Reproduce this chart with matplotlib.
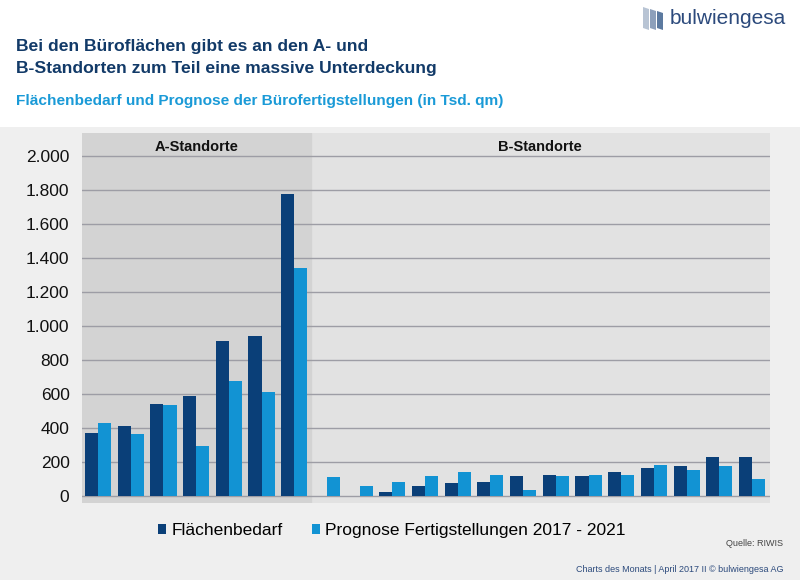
import matplotlib
matplotlib.use("Agg")
import matplotlib.pyplot as plt
import numpy as np
from matplotlib.patches import Rectangle, Polygon
from matplotlib.ticker import FuncFormatter

plt.rcParams['font.family'] = ['Liberation Sans', 'DejaVu Sans']

# values in Tsd. qm (7 A-Standorte, 14 B-Standorte)
bedarf_a = [372, 415, 540, 587, 912, 943, 1777]
prognose_a = [430, 366, 534, 297, 679, 610, 1339]
bedarf_b = [2, 2, 24, 61, 80, 82, 118, 124, 122, 141, 169, 176, 231, 231]
prognose_b = [112, 63, 86, 118, 143, 124, 39, 120, 127, 125, 186, 155, 176, 104]

series_labels = ["Flächenbedarf", "Prognose Fertigstellungen 2017 - 2021"]
group_labels = ["A-Standorte", "B-Standorte"]
yticks = list(range(0, 2001, 200))

dark = "#0a3f78"
light = "#1293d3"

bedarf = np.array(bedarf_a + bedarf_b)
prognose = np.array(prognose_a + prognose_b)
x = np.arange(len(bedarf))
n_a = len(bedarf_a)

fig = plt.figure(figsize=(8, 5.8), dpi=100)
fig.patch.set_facecolor("white")

# light gray panel behind the chart
fig.patches.append(Rectangle((0, 0), 1, 453 / 580, transform=fig.transFigure,
                             facecolor="#efefef", edgecolor="none", zorder=-10))

ax = fig.add_axes([82 / 800, 1 - 503 / 580, 688 / 800, 370 / 580])
ax.set_facecolor("#e2e2e2")

xmin, xmax = -0.49, len(x) - 1 + 0.55
split = n_a - 0.5
ax.axvspan(xmin, split, color="#d3d3d3", zorder=0)

w = 0.4
ax.bar(x - w / 2, bedarf, w, color=dark, label=series_labels[0], zorder=3)
ax.bar(x + w / 2, prognose, w, color=light, label=series_labels[1], zorder=3)

ax.set_xlim(xmin, xmax)
ax.set_ylim(-39, 2133)
ax.set_yticks(yticks)
ax.yaxis.set_major_formatter(FuncFormatter(lambda v, p: f"{int(v):,}".replace(",", ".")))
ax.set_xticks([])
ax.tick_params(axis="y", length=0, pad=9, labelsize=12.5, labelcolor="#111111")
ax.grid(axis="y", color="#9d9da5", linewidth=1, zorder=1)
ax.set_axisbelow(True)
for s in ax.spines.values():
    s.set_visible(False)

ax.text((xmin + split) / 2, 2050, group_labels[0], ha="center", va="center",
        fontsize=10.5, fontweight="bold", color="#111111")
ax.text((split + xmax) / 2, 2050, group_labels[1], ha="center", va="center",
        fontsize=10.5, fontweight="bold", color="#111111")

leg = ax.legend(loc="center", bbox_to_anchor=(0.5 - 0.5 * 82 / 688 + 0.01, -0.075), ncol=2,
                frameon=False, fontsize=12.5, handlelength=0.45, handleheight=0.45,
                handletextpad=0.3, columnspacing=1.7)

# titles
fig.text(16 / 800, 1 - 46 / 580, "Bei den Büroflächen gibt es an den A- und",
         fontsize=12.6, fontweight="bold", color="#123a68", va="center")
fig.text(16 / 800, 1 - 68 / 580, "B-Standorten zum Teil eine massive Unterdeckung",
         fontsize=12.6, fontweight="bold", color="#123a68", va="center")
fig.text(16 / 800, 1 - 101 / 580,
         "Flächenbedarf und Prognose der Bürofertigstellungen (in Tsd. qm)",
         fontsize=11.1, fontweight="bold", color="#1a9ad7", va="center")

# logo
fig.text(670 / 800, 1 - 18 / 580, "bulwiengesa", fontsize=15, color="#2c4a7c", va="center")
for i, c in enumerate(["#b8c4d4", "#8da0bb", "#5c7aa0"]):
    x0 = 643 + i * 7
    pts = [(x0, 7 + i * 2), (x0 + 6, 9 + i * 2), (x0 + 6, 30), (x0, 28)]
    fig.patches.append(Polygon([(px / 800, 1 - py / 580) for px, py in pts],
                               closed=True, transform=fig.transFigure,
                               facecolor=c, edgecolor="none"))

fig.text(783 / 800, 1 - 543 / 580, "Quelle: RIWIS", fontsize=6.5, color="#444444",
         ha="right", va="center")
fig.text(783 / 800, 1 - 570 / 580, "Charts des Monats | April 2017 II © bulwiengesa AG",
         fontsize=6.5, color="#2c4a7c", ha="right", va="center")

fig.savefig("out.png", dpi=100, facecolor=fig.get_facecolor())
